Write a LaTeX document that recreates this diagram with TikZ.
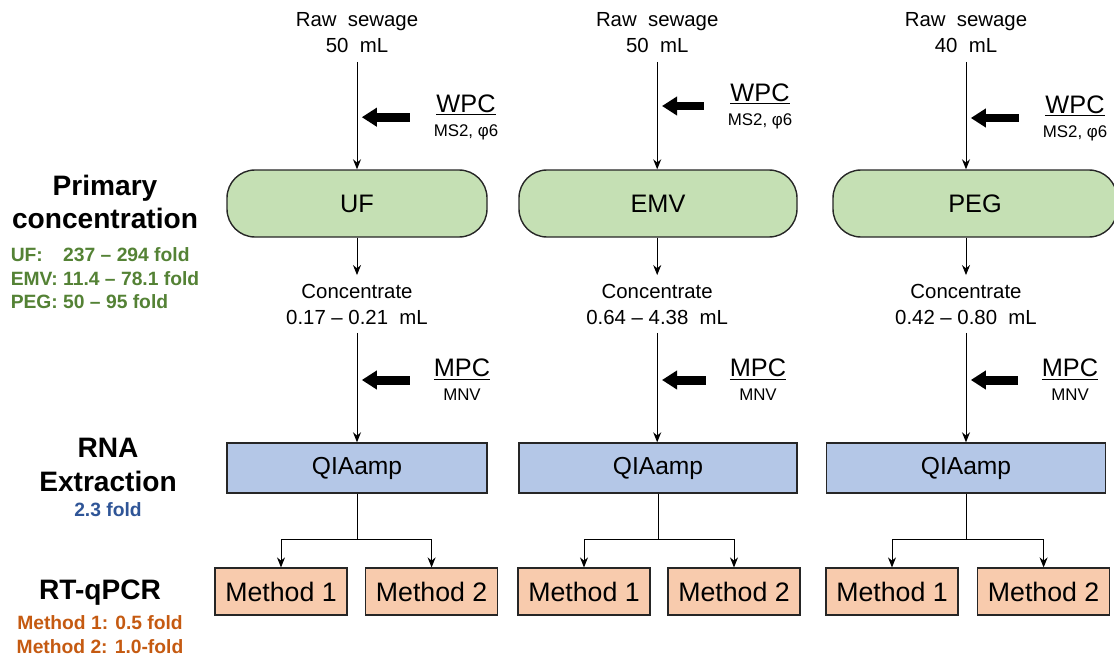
\documentclass[tikz,border=0pt]{standalone}
\usepackage{fontspec}
\setmainfont{Liberation Sans}
\usepackage{xcolor}
\definecolor{BoxGreen}{HTML}{C5E0B4}
\definecolor{BoxBlue}{HTML}{B4C7E7}
\definecolor{BoxOrange}{HTML}{F8CBAD}
\definecolor{TxtGreen}{HTML}{548235}
\definecolor{TxtBlue}{HTML}{2F5597}
\definecolor{TxtOrange}{HTML}{C55A11}
\definecolor{Edge}{HTML}{262626}
\usetikzlibrary{arrows.meta, positioning, calc}

\begin{document}
\begin{tikzpicture}[>=Stealth,
  primbox/.style={rectangle, rounded corners=0.7cm, draw=Edge, line width=1pt, fill=BoxGreen,
                  minimum height=1.675cm, font=\fontsize{18}{22}\selectfont},
  rnabox/.style={rectangle, draw=Edge, line width=1pt, fill=BoxBlue,
                 minimum height=1.25cm, font=\fontsize{17.5}{21}\selectfont},
  pcrbox/.style={rectangle, draw=Edge, line width=1pt, fill=BoxOrange,
                 minimum width=3.3cm, minimum height=1.175cm, font=\fontsize{19}{23}\selectfont},
  flow/.style={align=center, inner sep=6pt, font=\fontsize{14.5}{18.5}\selectfont},
  spike/.style={align=center, inner sep=0pt, font=\fontsize{18}{17}\selectfont},
  stage/.style={align=center, font=\bfseries\fontsize{20}{24}\selectfont},
  fold/.style={align=center, inner sep=0pt, font=\bfseries\fontsize{13.7}{16.7}\selectfont},
  arr/.style={-{Stealth[length=2.5mm, width=2mm]}, line width=0.7pt},
  fat/.style={-{Triangle[length=3.75mm, width=4.5mm]}, line width=6.4pt,
              shorten <=0.6cm, shorten >=0.12cm}
]
\useasboundingbox (0,0) rectangle (27.85,-16.425);

%% ---- Left column: stage titles and fold changes ----
\node[stage] (primlbl) at (2.625,-5.05) {Primary\\concentration};
\node[fold, text=TxtGreen] (primfold) at (2.625,-7.0125)
  {\begin{tabular}{@{}l@{\ }l@{}}UF: & 237 – 294 fold\\EMV: & 11.4 – 78.1 fold\\PEG: & 50 – 95 fold\end{tabular}};
\node[stage] (rnalbl) at (2.7,-11.625) {RNA\\Extraction};
\node[fold, text=TxtBlue] (rnafold) at (2.7,-12.75) {2.3 fold};
\node[stage] (pcrlbl) at (2.5,-14.825) {RT-qPCR};
\node[fold, text=TxtOrange] (pcrfold) at (2.5,-15.86) {Method 1: 0.5 fold\\Method 2: 1.0-fold};

%% ---- Column 1: UF ----
\node[flow]    (raw1)  at ( 8.925,-0.825) {Raw\ \ sewage\\50\ \ mL};
\node[primbox, minimum width=6.5cm] (uf) at ( 8.925,-5.0875) {UF};
\node[flow]    (conc1) at ( 8.925,-7.6)   {Concentrate\\0.17 – 0.21\ \ mL};
\node[rnabox, minimum width=6.5cm] (qia1) at ( 8.925,-11.7) {QIAamp};
\node[pcrbox]  (m11)   at ( 7.025,-14.79) {Method 1};
\node[pcrbox]  (m12)   at (10.79, -14.79) {Method 2};
\node[spike]   (wpc1)  at (11.65,-2.93) {\underline{WPC}\\{\fontsize{12}{14}\selectfont MS2, φ6}};
\node[spike]   (mpc1)  at (11.55,-9.5)  {\underline{MPC}\\{\fontsize{12}{14}\selectfont MNV}};
\coordinate    (s1)    at ( 8.925,-13.475);

%% ---- Column 2: EMV ----
\node[flow]    (raw2)  at (16.43,-0.825) {Raw\ \ sewage\\50\ \ mL};
\node[primbox, minimum width=6.95cm] (emv) at (16.45,-5.0875) {EMV};
\node[flow]    (conc2) at (16.43,-7.6)   {Concentrate\\0.64 – 4.38\ \ mL};
\node[rnabox, minimum width=6.95cm] (qia2) at (16.45,-11.7) {QIAamp};
\node[pcrbox]  (m21)   at (14.6, -14.79) {Method 1};
\node[pcrbox]  (m22)   at (18.35,-14.79) {Method 2};
\node[spike]   (wpc2)  at (19.0, -2.65) {\underline{WPC}\\{\fontsize{12}{14}\selectfont MS2, φ6}};
\node[spike]   (mpc2)  at (18.95,-9.5)  {\underline{MPC}\\{\fontsize{12}{14}\selectfont MNV}};
\coordinate    (s2)    at (16.45,-13.475);

%% ---- Column 3: PEG (box runs off the right edge) ----
\node[flow]    (raw3)  at (24.15,-0.825) {Raw\ \ sewage\\40\ \ mL};
\node[primbox, minimum width=7.1cm] (peg) at (24.375,-5.0875) {PEG};
\node[flow]    (conc3) at (24.15,-7.6)   {Concentrate\\0.42 – 0.80\ \ mL};
\node[rnabox, minimum width=6.975cm] (qia3) at (24.15,-11.7) {QIAamp};
\node[pcrbox]  (m31)   at (22.3, -14.79) {Method 1};
\node[pcrbox]  (m32)   at (26.09,-14.79) {Method 2};
\node[spike]   (wpc3)  at (26.875,-2.95) {\underline{WPC}\\{\fontsize{12}{14}\selectfont MS2, φ6}};
\node[spike]   (mpc3)  at (26.75,-9.5)   {\underline{MPC}\\{\fontsize{12}{14}\selectfont MNV}};
\coordinate    (s3)    at (24.15,-13.475);

%% ---- Main flow arrows ----
\draw[arr] (raw1)  -- (raw1 |- uf.north);
\draw[arr] (uf)    -- (conc1);
\draw[arr] (conc1) -- (conc1 |- qia1.north);
\draw[arr] (raw2)  -- (raw2 |- emv.north);
\draw[arr] (conc2 |- emv.south) -- (conc2);
\draw[arr] (conc2) -- (conc2 |- qia2.north);
\draw[arr] (raw3)  -- (raw3 |- peg.north);
\draw[arr] (conc3 |- peg.south) -- (conc3);
\draw[arr] (conc3) -- (conc3 |- qia3.north);

%% ---- Process controls spiked in ----
\draw[fat] (wpc1) -- (wpc1 -| raw1);
\draw[fat] (wpc2) -- (wpc2 -| raw2);
\draw[fat] (wpc3) -- (wpc3 -| raw3);
\draw[fat] (mpc1) -- (mpc1 -| conc1);
\draw[fat] (mpc2) -- (mpc2 -| conc2);
\draw[fat] (mpc3) -- (mpc3 -| conc3);

%% ---- Split to the two RT-qPCR methods ----
\draw[arr] (qia1.south) -- (s1) -| (m11.north);
\draw[arr] (s1) -| (m12.north);
\draw[arr] (qia2.south) -- (s2) -| (m21.north);
\draw[arr] (s2) -| (m22.north);
\draw[arr] (qia3.south) -- (s3) -| (m31.north);
\draw[arr] (s3) -| (m32.north);

\end{tikzpicture}
\end{document}
